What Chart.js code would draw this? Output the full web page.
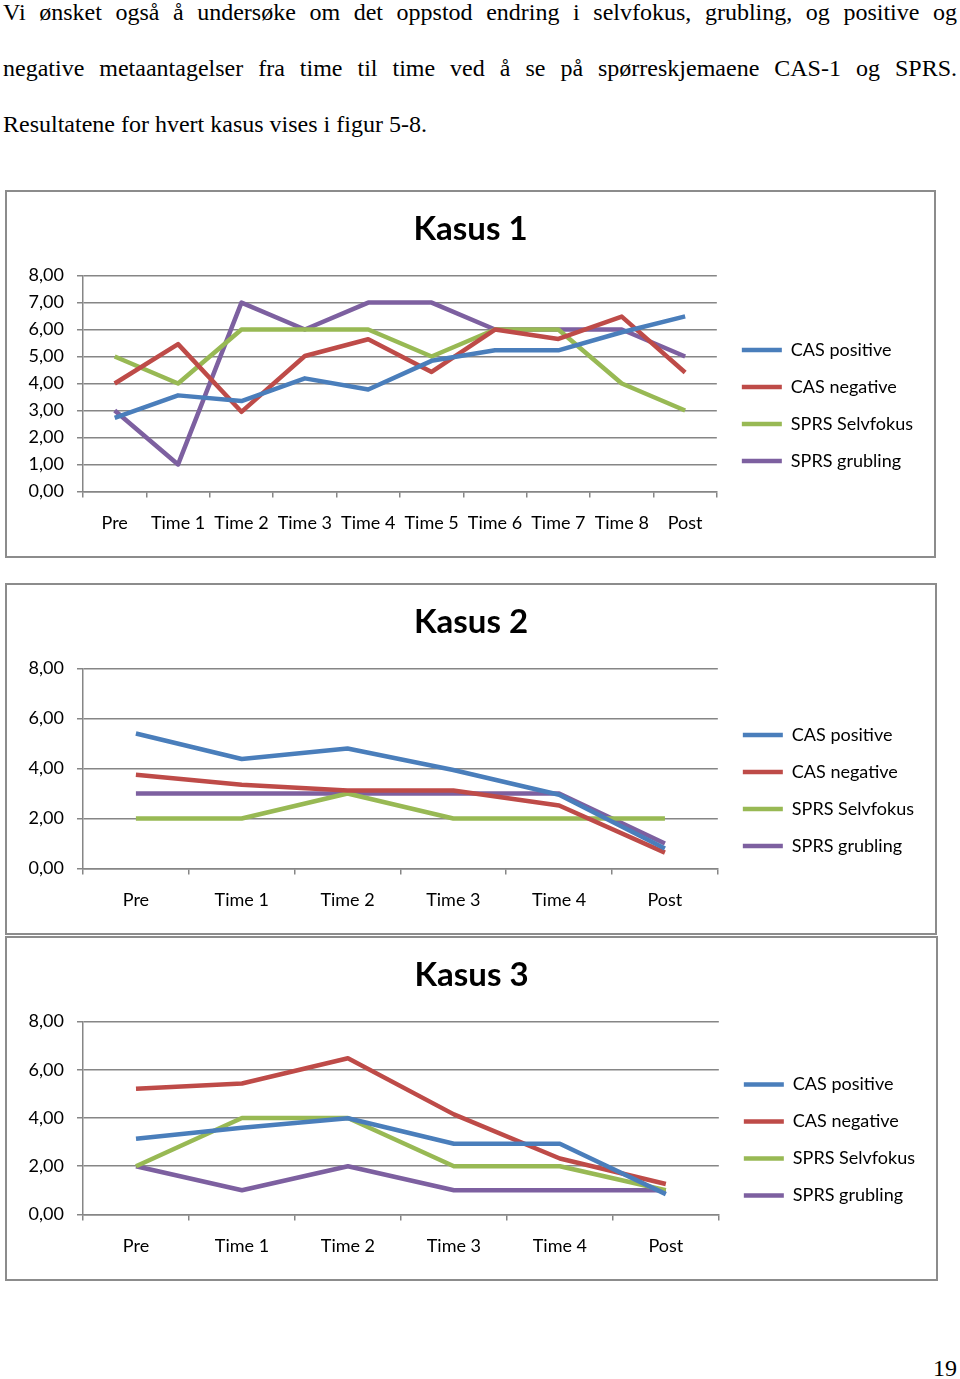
<!DOCTYPE html>
<html>
<head>
<meta charset="utf-8">
<script src="https://cdn.jsdelivr.net/npm/chart.js@4.4.0/dist/chart.umd.min.js"></script>
<style>
  body { margin: 0; width: 960px; height: 1379px; position: relative; background: #fff; overflow: hidden; }
  .para { position: absolute; left: 3px; top: -16px; width: 954px; font-family: "Liberation Serif", "Times New Roman", "DejaVu Serif", serif; font-size: 24px; line-height: 56px; color: #000; }
  .para div { white-space: nowrap; }
  .para .just { white-space: normal; text-align: justify; text-align-last: justify; }
  .box { position: absolute; border: 2px solid #8c8c8c; box-sizing: border-box; background: #fff; }
  .box canvas { display: block; }
  .pagenum { position: absolute; right: 3px; top: 1356px; font-family: "Liberation Serif", "Times New Roman", serif; font-size: 24px; line-height: 24px; }
</style>
</head>
<body>
<div class="para">
  <div class="just">Vi ønsket også å undersøke om det oppstod endring i selvfokus, grubling, og positive og</div>
  <div class="just">negative metaantagelser fra time til time ved å se på spørreskjemaene CAS-1 og SPRS.</div>
  <div>Resultatene for hvert kasus vises i figur 5-8.</div>
</div>

<div class="box" style="left:5px; top:190px; width:931px; height:368px;"><canvas id="kasus1" width="927" height="364"></canvas></div>
<div class="box" style="left:5px; top:583px; width:932px; height:352px;"><canvas id="kasus2" width="928" height="348"></canvas></div>
<div class="box" style="left:5px; top:936px; width:933px; height:345px;"><canvas id="kasus3" width="929" height="341"></canvas></div>

<div class="pagenum">19</div>

<script>
// kategorier
const labels1 = ['Pre', 'Time 1', 'Time 2', 'Time 3', 'Time 4', 'Time 5', 'Time 6', 'Time 7', 'Time 8', 'Post'];
const labels23 = ['Pre', 'Time 1', 'Time 2', 'Time 3', 'Time 4', 'Post'];
const seriesNames = ['CAS positive', 'CAS negative', 'SPRS Selvfokus', 'SPRS grubling'];
const seriesColors = ['#4a7ebb', '#be4b48', '#98b954', '#7d60a0'];

// Kasus 1
const k1CasPos = [2.73, 3.56, 3.35, 4.19, 3.78, 4.84, 5.23, 5.23, 5.9, 6.49];
const k1CasNeg = [4.0, 5.46, 2.95, 5.02, 5.64, 4.43, 6.0, 5.65, 6.48, 4.41];
const k1Selv = [5, 4, 6, 6, 6, 5, 6, 6, 4, 3];
const k1Grub = [3, 1, 7, 6, 7, 7, 6, 6, 6, 5];

// Kasus 2
const k2CasPos = [5.4, 4.38, 4.8, 3.94, 2.95, 0.8];
const k2CasNeg = [3.75, 3.35, 3.12, 3.12, 2.52, 0.63];
const k2Selv = [2, 2, 3, 2, 2, 2];
const k2Grub = [3, 3, 3, 3, 3, 1];

// Kasus 3
const k3CasPos = [3.14, 3.6, 3.99, 2.93, 2.93, 0.84];
const k3CasNeg = [5.21, 5.43, 6.48, 4.15, 2.32, 1.26];
const k3Selv = [2, 4, 4, 2, 2, 1];
const k3Grub = [2, 1, 2, 1, 1, 1];

Chart.defaults.font.family = 'Lato';
Chart.defaults.color = '#000';

const gridGrey = '#868686';

function makeChart(id, title, labels, series, step) {
  new Chart(document.getElementById(id), {
    type: 'line',
    data: {
      labels: labels,
      datasets: series.map((vals, i) => ({
        label: seriesNames[i],
        data: vals,
        borderColor: seriesColors[i],
        backgroundColor: seriesColors[i],
        borderWidth: 4.5,
        borderJoinStyle: 'round',
        pointRadius: 0,
        tension: 0
      }))
    },
    options: {
      responsive: false,
      animation: false,
      layout: { padding: { left: 11, right: 11, bottom: 7 } },
      plugins: {
        title: {
          display: true,
          text: title,
          color: '#000',
          font: { size: 33, weight: 'bold' },
          padding: { top: 18, bottom: 26 }
        },
        legend: {
          position: 'right',
          align: 'center',
          maxWidth: 260,
          // tom tittel skyver forklaringen ned som i Excel
          title: { display: true, text: '', font: { size: 10 }, padding: { top: 58, bottom: 0 } },
          labels: {
            usePointStyle: true,
            pointStyle: 'line',
            pointStyleWidth: 40,
            padding: 19,
            color: '#000',
            font: { size: 18 }
          }
        },
        tooltip: { enabled: false }
      },
      scales: {
        x: {
          offset: true,
          grid: { offset: true, drawOnChartArea: false, tickLength: 6, color: gridGrey, lineWidth: 1.5 },
          border: { color: gridGrey, width: 1.5 },
          ticks: { padding: 15, maxRotation: 0, autoSkip: false, font: { size: 18 } }
        },
        y: {
          min: 0,
          max: 8,
          grid: { color: gridGrey, lineWidth: 1.5, tickLength: 6 },
          border: { color: gridGrey, width: 1.5 },
          ticks: {
            stepSize: step,
            padding: 13,
            font: { size: 18 },
            callback: v => v.toFixed(2).replace('.', ',')
          },
          afterFit: s => { s.width = 65; }
        },
        // tomrom mellom plott og forklaring
        gap: {
          type: 'linear',
          position: 'right',
          display: true,
          grid: { display: false },
          border: { display: false },
          ticks: { display: false },
          afterFit: s => { s.width = 6; }
        }
      }
    }
  });
}

makeChart('kasus1', 'Kasus 1', labels1, [k1CasPos, k1CasNeg, k1Selv, k1Grub], 1);
makeChart('kasus2', 'Kasus 2', labels23, [k2CasPos, k2CasNeg, k2Selv, k2Grub], 2);
makeChart('kasus3', 'Kasus 3', labels23, [k3CasPos, k3CasNeg, k3Selv, k3Grub], 2);
</script>
</body>
</html>
